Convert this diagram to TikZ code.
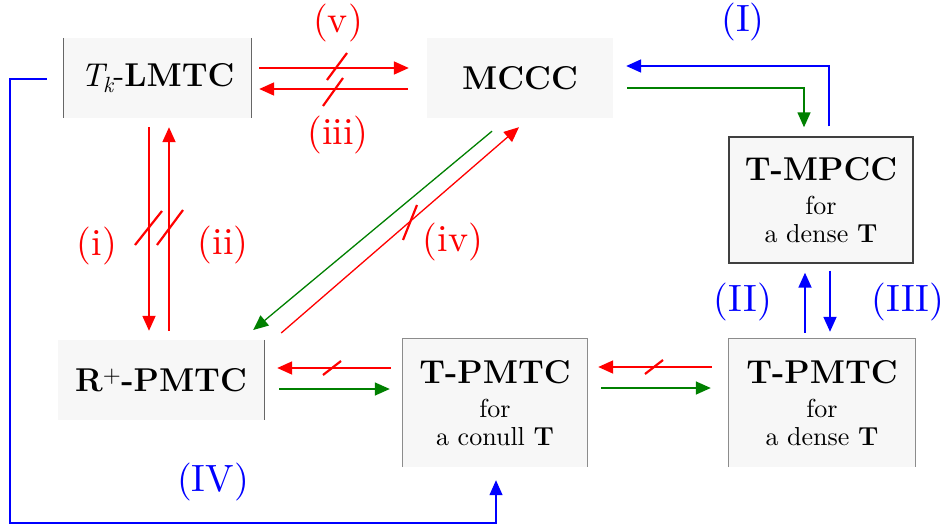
\documentclass[tikz,border=0pt]{standalone}
\usepackage{fontspec}
\setmainfont{lmroman10-regular.otf}[BoldFont=lmroman12-bold.otf, ItalicFont=lmroman10-italic.otf, BoldItalicFont=lmroman10-bolditalic.otf]
\usetikzlibrary{arrows.meta,calc}
\definecolor{boxfill}{HTML}{F7F7F7}
\definecolor{gr}{HTML}{008000}
\tikzset{
  box/.style={fill=boxfill, inner sep=0pt, align=center, font=\fontsize{26}{28}\selectfont},
  bord/.style={draw=black!60, line width=1.1pt},
  tip/.style={-{Triangle[length=15pt,width=13pt]}},
  ra/.style={tip, draw=red, line width=1.8pt},
  rd/.style={tip, draw=red, line width=1.3pt},
  ga/.style={tip, draw=gr, line width=1.5pt},
  ba/.style={tip, draw=blue, line width=1.8pt},
  slashln/.style={draw=red, line width=2.2pt},
  lab/.style={font=\fontsize{38}{40}\selectfont, inner sep=0pt}
}
\newcommand{\ttlf}{\fontsize{33}{33}\selectfont\bfseries}
\begin{document}
\begin{tikzpicture}[x=1pt,y=-1pt]
\useasboundingbox (0,0) rectangle (945,527);
% boxes
\node[box, minimum width=187pt, minimum height=80pt] (lmtc) at (157.5,78) {\ttlf {\mdseries\itshape T\kern-1pt\raisebox{-6pt}{\fontsize{22}{22}\selectfont k}}\mdseries-\bfseries LMTC};
\node[box, minimum width=186pt, minimum height=80pt] (mccc) at (520,78) {\ttlf MCCC};
\node[box, draw=black!75, line width=1.4pt, minimum width=184pt, minimum height=126pt] (mpcc) at (821,200) {{\ttlf T-MPCC}\\[6pt] for\\ a dense \textbf{T}};
\node[box, minimum width=206pt, minimum height=80pt] (rpmtc) at (161,380) {\ttlf R{\mdseries\textsuperscript{+}}-PMTC};
\node[box, minimum width=184pt, minimum height=128pt] (conull) at (495,403) {{\ttlf T-PMTC}\\[6pt] for\\ a conull \textbf{T}};
\node[box, minimum width=186pt, minimum height=128pt] (dense) at (822,403) {{\ttlf T-PMTC}\\[6pt] for\\ a dense \textbf{T}};
% partial borders
\draw[bord] (lmtc.north west) -- (lmtc.south west);
\draw[bord] (lmtc.north east) -- (lmtc.south east);
\draw[bord] (rpmtc.north east) -- (rpmtc.south east);
\draw[bord, draw=black!45] (conull.south west) -- (conull.north west) -- (conull.north east) -- (conull.south east);
\draw[bord, draw=black!45] (dense.south west) -- (dense.north west) -- (dense.north east) -- (dense.south east);
% top arrows
\draw[ra] ($(lmtc.east)+(8,-10)$) -- ($(mccc.west)+(-18,-10)$);
\draw[ra] ($(mccc.west)+(-19,11)$) -- ($(lmtc.east)+(8,11)$);
\draw[slashln] (327,80) -- (347,53);
\draw[slashln] (323,106) -- (343,78);
% vertical (i) (ii)
\draw[ra] ($(lmtc.south)+(-8.5,9)$) -- ($(rpmtc.north)+(-12,-9)$);
\draw[ra] ($(rpmtc.north)+(8,-9)$) -- ($(lmtc.south)+(11.5,9)$);
\draw[slashln] (135,245) -- (162,211);
\draw[slashln] (157,245) -- (183,210);
% diagonals
\draw[ga, line width=1.3pt] ($(mccc.south)+(-28,13)$) -- ($(rpmtc.east)+(-11,-50)$);
\draw[rd] ($(rpmtc.east)+(17,-47)$) -- ($(mccc.south)+(-1,9)$);
\draw[slashln] (403,240) -- (417,205);
% right loop MCCC <-> MPCC
\draw[ba] ($(mpcc.north)+(8,-10)$) |- ($(mccc.east)+(13,-12)$);
\draw[ga] ($(mccc.east)+(14,10)$) -| ($(mpcc.north)+(-17,-9)$);
% MPCC <-> dense
\draw[ba] ($(dense.north)+(-17,-6)$) -- ($(mpcc.south)+(-16,9)$);
\draw[ba] ($(mpcc.south)+(9,7)$) -- ($(dense.north)+(8,-7)$);
% bottom horizontals
\draw[ra] ($(conull.west)+(-12,-35)$) -- ($(rpmtc.east)+(13,-12)$);
\draw[ga] ($(rpmtc.east)+(15,9)$) -- ($(conull.west)+(-13,-14)$);
\draw[slashln] (323,375) -- (341,361);
\draw[ra] ($(dense.west)+(-17,-36)$) -- ($(conull.east)+(11,-36)$);
\draw[ga] ($(conull.east)+(14,-15)$) -- ($(dense.west)+(-18,-15)$);
\draw[slashln] (645,374) -- (663,360);
% (IV)
\coordinate (iva) at (10,79);
\coordinate (ivb) at (10,523);
\draw[ba, line width=1.3pt] ($(lmtc.west)+(-17,1)$) -- (iva) -- (ivb) -| ($(conull.south)+(1,13)$);
% labels
\node[lab, text=red] (lv) at (338,23) {(v)};
\node[lab, text=red] (liii) at (338,135) {(iii)};
\node[lab, text=red] (li) at (97,246) {(i)};
\node[lab, text=red] (lii) at (223,245) {(ii)};
\node[lab, text=red] (liv) at (453,242) {(iv)};
\node[lab, text=blue] (lI) at (743,22) {(I)};
\node[lab, text=blue] (lII) at (743,302) {(II)};
\node[lab, text=blue] (lIII) at (908,302) {(III)};
\node[lab, text=blue] (lIV) at (213,482) {(IV)};
\end{tikzpicture}
\end{document}
